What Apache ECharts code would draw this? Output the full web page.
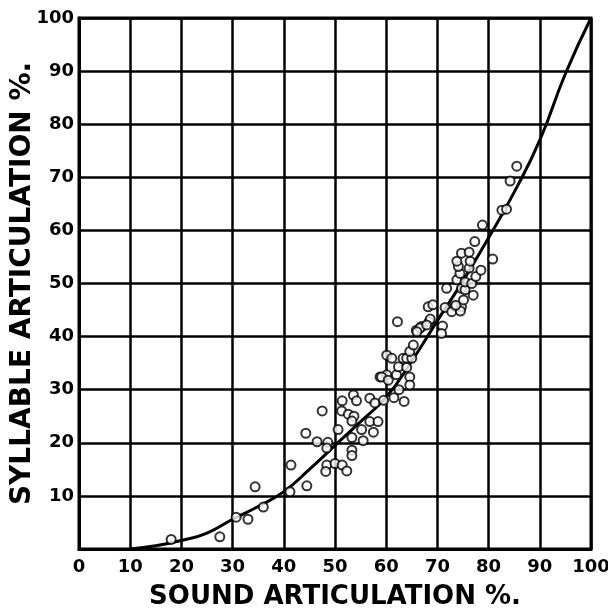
<!DOCTYPE html>
<html>
<head>
<meta charset="utf-8">
<script src="https://cdn.jsdelivr.net/npm/echarts@6/dist/echarts.min.js"></script>
<style>
html,body{margin:0;padding:0;background:#fff;}
#chart{width:608px;height:608px;}
</style>
</head>
<body>
<div id="chart"></div>
<script>
const xTicks = [0,10,20,30,40,50,60,70,80,90,100];
const yTicks = [0,10,20,30,40,50,60,70,80,90,100];
const xName = 'SOUND ARTICULATION %.';
const yName = 'SYLLABLE ARTICULATION %.';

// fitted curve [sound, syllable]
const curvePoints = [
  [10,0],[15,0.6],[20,1.6],[25,3],[30,5.6],[35,8],[40,10.8],[45,15],[50,19.5],
  [55,24],[60,28.6],[65,35.4],[70,43],[75,50.5],[80,58.6],[85,67.2],[90,77],
  [95,89.5],[100,100]
];

// measured points [sound, syllable]
const measuredLow = [
  [18,1.8],[27.5,2.3],[30.7,6],[33,5.6],[36,7.9],[34.4,11.7],[41.2,10.8],[44.5,11.9],
  [41.4,15.8],[44.3,21.8],[46.5,20.2],[47.5,26],[48.6,20.1],[48.4,19],[48.4,15.8],
  [48.2,14.6],[50,16.1],[51.4,15.8],[52.3,14.7],[50.6,22.5],[51.3,26],[51.4,27.9],
  [52.6,25.4],[53.7,25],[53.3,24.1],[53.6,29],[54.2,27.9],[53.3,21],[55.5,20.4],
  [53.3,18.6],[53.3,17.6],[55.2,22.5],[56.8,24],[57.5,22],[58.4,24],[56.8,28.4],
  [57.8,27.5],[59.5,28],[61.5,28.5],[63.5,27.8],[62.5,30]
];
const measuredMid = [
  [58.8,32.4],[60.1,32.8],[60.1,36.5],[59.1,32.4],[60.4,31.8],[61.1,35.9],[62,32.8],
  [62.4,34.3],[63.3,35.9],[64,35.9],[65,35.9],[64,34.2],[64.6,32.4],[64.6,30.9],
  [64.6,37.2],[65.3,38.4],[62.2,42.8],[65.9,41.2],[66.9,41.9],[68.4,42.8],[68.2,45.6],
  [66.6,41.6],[71,42],[70.8,40.6],[68.6,43.3],[67.9,42.2],[66,40.9]
];
const measuredHigh = [
  [69.1,46],[71.5,45.5],[73.4,45.6],[74.7,45.6],[72.8,44.7],[74.5,44.8],[73.6,45.9],
  [75.1,46.9],[77,47.8],[71.8,49.1],[74.7,49.1],[75.4,48.8],[73.8,50.7],[75.4,50.3],
  [76.7,50],[77.5,51.3],[74.4,51.9],[78.5,52.5],[76.2,52.9],[74.1,53.2],[73.8,54.2],
  [76.4,54.2],[80.8,54.6],[74.7,55.7],[76.2,55.9],[77.3,57.9],[78.8,61],[82.6,63.8],
  [83.5,64],[84.2,69.3],[85.5,72.1]
];

const font = 'DejaVu Sans';
const chart = echarts.init(document.getElementById('chart'));
const axisCommon = {
  type: 'value', min: 0, max: 100, interval: 10,
  axisLine: {show: true, lineStyle: {color: '#000', width: 3}},
  axisTick: {show: false},
  splitLine: {show: true, lineStyle: {color: '#000', width: 2.5}},
};
chart.setOption({
  animation: false,
  backgroundColor: '#fff',
  grid: {left: 79, right: 17, top: 18, bottom: 59, show: true, borderColor: '#000', borderWidth: 3,
         containLabel: false, outerBoundsMode: 'none'},
  xAxis: Object.assign({}, axisCommon, {
    name: xName, nameLocation: 'middle', nameGap: 35, nameMoveOverlap: false,
    nameTextStyle: {color: '#000', fontFamily: font, fontSize: 26, fontWeight: 'bold'},
    axisLabel: {color: '#000', fontFamily: font, fontSize: 18, fontWeight: 'bold', margin: 9,
      formatter: v => xTicks.includes(v) ? String(v) : ''}
  }),
  yAxis: Object.assign({}, axisCommon, {
    name: yName, nameLocation: 'middle', nameGap: 42, nameMoveOverlap: false,
    nameTextStyle: {color: '#000', fontFamily: font, fontSize: 28, fontWeight: 'bold'},
    axisLabel: {color: '#000', fontFamily: font, fontSize: 18, fontWeight: 'bold', margin: 5,
      formatter: v => (yTicks.includes(v) && v !== 0) ? String(v) : ''}
  }),
  series: [
    {type: 'line', data: curvePoints, smooth: true, showSymbol: false, symbol: 'none',
     lineStyle: {color: '#000', width: 3}, z: 2},
    {type: 'scatter', data: measuredLow.concat(measuredMid, measuredHigh), symbol: 'circle', symbolSize: 9,
     itemStyle: {color: '#fff', borderColor: '#000', borderWidth: 2}, z: 3}
  ]
});
</script>
</body>
</html>
